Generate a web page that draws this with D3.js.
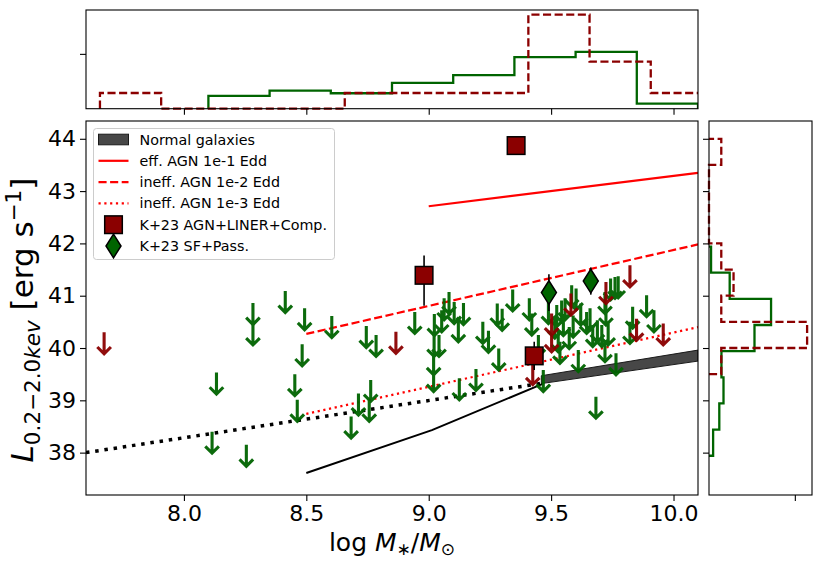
<!DOCTYPE html>
<html>
<head>
<meta charset="utf-8">
<script src="https://cdn.jsdelivr.net/npm/d3@7"></script>
<style>
  body { margin: 0; background: #fff; }
  svg text { font-family: "DejaVu Sans", sans-serif; }
</style>
</head>
<body>
<div id="chart-area"></div>
<script>
// ---- data ----
const xTicks = [8.0, 8.5, 9.0, 9.5, 10.0]
const yTicks = [38, 39, 40, 41, 42, 43, 44]

// upper limits (arrow start points), SF+Pass. sample
const greenX = [8.282, 8.282, 8.414, 8.493, 8.483, 8.453, 8.463, 8.133, 8.115, 8.255,
  8.604, 8.745, 8.785, 8.943, 9.023, 9.022, 9.020, 9.020, 9.053, 9.042,
  9.063, 9.083, 9.104, 9.121, 9.142, 9.125, 9.193, 9.221, 9.244, 9.280,
  9.286, 8.763, 8.757, 8.713, 8.683,
  9.343, 9.300, 9.411, 9.421, 9.448, 9.468, 9.529, 9.523, 9.543, 9.574,
  9.557, 9.584, 9.602, 9.611, 9.621, 9.645, 9.659, 9.670, 9.689, 9.707,
  9.720, 9.733, 9.743, 9.761, 9.774, 9.720, 9.724, 9.765, 9.683, 9.536,
  9.890, 9.833, 9.822, 9.920, 9.489, 9.515, 9.550, 9.590]
const greenY = [40.86, 40.47, 41.09, 40.76, 40.07, 39.50, 39.01, 39.53, 38.40, 38.15,
  40.61, 40.42, 40.25, 40.69, 40.65, 40.25, 39.90, 39.58, 40.72, 40.25,
  40.95, 41.07, 40.88, 40.53, 40.86, 39.42, 39.60, 40.50, 40.33, 40.85,
  39.99, 39.39, 39.01, 39.13, 38.69,
  41.12, 40.75, 40.95, 40.66, 40.25, 39.58, 40.34, 40.82, 40.91, 40.40,
  40.95, 41.20, 41.14, 39.96, 40.85, 40.69, 40.76, 40.44, 40.53, 40.44,
  40.15, 40.47, 41.33, 41.36, 41.37, 41.07, 40.85, 39.90, 39.07, 40.12,
  41.01, 40.79, 40.50, 40.72, 40.88, 40.60, 40.65, 40.62]

// upper limits, AGN+LINER+Comp. sample
const redX = [7.674, 8.866, 9.425, 9.502, 9.502, 9.581, 9.724, 9.822, 9.849, 9.958]
const redY = [40.30, 40.31, 39.71, 40.66, 40.34, 41.04, 41.26, 41.58, 40.56, 40.47]

// detections
const agnX = [9.357, 8.981, 9.431]
const agnY = [43.87, 41.39, 39.85]
const agnErrUp = [0, 0.38, 0.27]
const agnErrLo = [0, 0.58, 0.27]
const sfX = [9.491, 9.662]
const sfY = [41.06, 41.28]
const sfErr = [0.35, 0.26]

// relations
const normX = [9.46, 10.1]
const normLo = [39.32, 39.75]
const normHi = [39.47, 39.96]
const xrbX = [7.6, 9.455]
const xrbY = [38.0, 39.32]
const lowX = [8.5, 9.013, 9.468]
const lowY = [37.61, 38.43, 39.32]
const eddX1 = [9.0, 10.1]
const eddY1 = [42.71, 43.35]
const eddX2 = [8.5, 10.1]
const eddY2 = [40.27, 41.98]
const eddX3 = [8.5, 10.1]
const eddY3 = [38.74, 40.40]

// marginal histograms (density)
const topRedStart = 7.657, topGreenStart = 8.1, topBin = 0.25
const topRed = [0.286, 0, 0, 0, 0.286, 0.286, 0.286, 1.714, 0.857, 0.286]
const topGreen = [0.235, 0.329, 0.282, 0.47, 0.612, 0.941, 1.035, 0.094]
const rightRedStart = 39.5, rightGreenStart = 37.94, rightBin = 0.5
const rightRed = [0.143, 1.143, 0.143, 0.286, 0.143, 0, 0, 0, 0.143]
const rightGreen = [0.048, 0.12, 0.169, 0.145, 0.53, 0.723, 0.241, 0.024]

const legendItems = ["Normal galaxies", "eff. AGN 1e-1 Edd", "ineff. AGN 1e-2 Edd",
  "ineff. AGN 1e-3 Edd", "K+23 AGN+LINER+Comp.", "K+23 SF+Pass."]

// ---- layout ----
const W = 822, H = 566
const MAIN = { L: 86, R: 698, T: 121, B: 495 }
const TOP = { T: 10, B: 108.7 }
const RIGHT = { L: 709, R: 812 }
const DARKRED = "#8b0000", DARKGREEN = "#006400"

const svg = d3.select("#chart-area").append("svg")
  .attr("width", W).attr("height", H)

const x = d3.scaleLinear().domain([7.6, 10.1]).range([MAIN.L, MAIN.R])
const y = d3.scaleLinear().domain([37.19, 44.34]).range([MAIN.B, MAIN.T])
const yTop = d3.scaleLinear().domain([0, 1.8]).range([TOP.B, TOP.T])
const xRight = d3.scaleLinear().domain([0, 1.2]).range([RIGHT.L, RIGHT.R])

const defs = svg.append("defs")
defs.append("clipPath").attr("id", "clipMain").append("rect")
  .attr("x", MAIN.L).attr("y", MAIN.T).attr("width", MAIN.R - MAIN.L).attr("height", MAIN.B - MAIN.T)
defs.append("clipPath").attr("id", "clipTop").append("rect")
  .attr("x", MAIN.L).attr("y", TOP.T).attr("width", MAIN.R - MAIN.L).attr("height", TOP.B - TOP.T + 2)
defs.append("clipPath").attr("id", "clipRight").append("rect")
  .attr("x", RIGHT.L - 2).attr("y", MAIN.T).attr("width", RIGHT.R - RIGHT.L + 2).attr("height", MAIN.B - MAIN.T)

// ---- main panel ----
const plot = svg.append("g").attr("clip-path", "url(#clipMain)")

const area = d3.area().x(d => x(d[0])).y0(d => y(d[1])).y1(d => y(d[2]))
plot.append("path")
  .datum(normX.map((v, i) => [v, normLo[i], normHi[i]]))
  .attr("d", area)
  .attr("fill", "#474747").attr("stroke", "#1a1a1a").attr("stroke-width", 1)

const line = d3.line().x(d => x(d[0])).y(d => y(d[1]))
const zip = (a, b) => a.map((v, i) => [v, b[i]])

plot.append("path").datum(zip(xrbX, xrbY)).attr("d", line)
  .attr("fill", "none").attr("stroke", "#000").attr("stroke-width", 3.5).attr("stroke-dasharray", "3.5,5.8")
plot.append("path").datum(zip(lowX, lowY)).attr("d", line)
  .attr("fill", "none").attr("stroke", "#000").attr("stroke-width", 2)
plot.append("path").datum(zip(eddX1, eddY1)).attr("d", line)
  .attr("fill", "none").attr("stroke", "red").attr("stroke-width", 2.2)
plot.append("path").datum(zip(eddX2, eddY2)).attr("d", line)
  .attr("fill", "none").attr("stroke", "red").attr("stroke-width", 2.2).attr("stroke-dasharray", "8.1,3.5")
plot.append("path").datum(zip(eddX3, eddY3)).attr("d", line)
  .attr("fill", "none").attr("stroke", "red").attr("stroke-width", 2.2).attr("stroke-dasharray", "2.2,3.6")

// arrows: shaft of 0.42 dex, open chevron head
const ARROW = 0.42
function drawArrows(xs, ys, color) {
  const g = plot.append("g").attr("stroke", color).attr("stroke-width", 3.1).attr("fill", "none")
    .attr("opacity", 0.95)
  xs.forEach((xv, i) => {
    const cx = x(xv), y0 = y(ys[i]), y1 = y(ys[i] - ARROW)
    g.append("path")
      .attr("d", `M${cx},${y0}L${cx},${y1 - 1}M${cx - 6.8},${y1 - 7.3}L${cx},${y1 - 0.5}L${cx + 6.8},${y1 - 7.3}`)
  })
}
drawArrows(greenX, greenY, DARKGREEN)
drawArrows(redX, redY, DARKRED)

// squares with error bars
agnX.forEach((xv, i) => {
  if (agnErrUp[i] > 0) {
    plot.append("line").attr("x1", x(xv)).attr("x2", x(xv))
      .attr("y1", y(agnY[i] + agnErrUp[i])).attr("y2", y(agnY[i] - agnErrLo[i]))
      .attr("stroke", "#000").attr("stroke-width", 1.6)
  }
})
plot.selectAll("rect.agn").data(agnX).enter().append("rect")
  .attr("class", "agn")
  .attr("x", (d) => x(d) - 8.8).attr("y", (d, i) => y(agnY[i]) - 8.8)
  .attr("width", 17.6).attr("height", 17.6)
  .attr("fill", DARKRED).attr("stroke", "#000").attr("stroke-width", 1.5)

// diamonds with error bars
const diamond = (cx, cy, hw, hh) => `M${cx},${cy - hh}L${cx + hw},${cy}L${cx},${cy + hh}L${cx - hw},${cy}Z`
sfX.forEach((xv, i) => {
  plot.append("line").attr("x1", x(xv)).attr("x2", x(xv))
    .attr("y1", y(sfY[i] + sfErr[i])).attr("y2", y(sfY[i] - sfErr[i]))
    .attr("stroke", "#000").attr("stroke-width", 1.6)
  plot.append("path").attr("d", diamond(x(xv), y(sfY[i]), 7.5, 11.8))
    .attr("fill", DARKGREEN).attr("stroke", "#000").attr("stroke-width", 1.5)
})

// axes
const xAxis = svg.append("g").attr("transform", `translate(0,${MAIN.B})`)
  .call(d3.axisBottom(x).tickValues(xTicks).tickFormat(d3.format(".1f")).tickSizeOuter(0).tickSize(6).tickPadding(4))
const yAxis = svg.append("g").attr("transform", `translate(${MAIN.L},0)`)
  .call(d3.axisLeft(y).tickValues(yTicks).tickSizeOuter(0).tickSize(6).tickPadding(4))
;[xAxis, yAxis].forEach(a => {
  a.select(".domain").remove()
  a.selectAll("text").attr("font-size", 22).attr("fill", "#000").attr("font-family", "DejaVu Sans")
  a.selectAll("line").attr("stroke", "#000").attr("stroke-width", 1.1)
})
svg.append("rect").attr("x", MAIN.L).attr("y", MAIN.T)
  .attr("width", MAIN.R - MAIN.L).attr("height", MAIN.B - MAIN.T)
  .attr("fill", "none").attr("stroke", "#000").attr("stroke-width", 1.1)

// axis labels
const xl = svg.append("text").attr("x", (MAIN.L + MAIN.R) / 2).attr("y", 551)
  .attr("text-anchor", "middle").attr("font-size", 25)
xl.append("tspan").text("log ")
xl.append("tspan").attr("font-style", "italic").text("M")
xl.append("tspan").attr("font-size", 17).attr("dy", 4).text("∗")
xl.append("tspan").attr("dy", -4).text("/")
xl.append("tspan").attr("font-style", "italic").text("M")
xl.append("tspan").attr("font-size", 17).attr("dy", 4).text("⊙")

const yl = svg.append("text")
  .attr("transform", "translate(33,320) rotate(-90)")
  .attr("text-anchor", "middle").attr("font-size", 31)
yl.append("tspan").attr("font-style", "italic").text("L")
yl.append("tspan").attr("font-size", 21.5).attr("dy", 7).text("0.2−2.0")
yl.append("tspan").attr("font-size", 21.5).attr("font-style", "italic").text("kev")
yl.append("tspan").attr("dy", -7).text("  [erg s")
yl.append("tspan").attr("font-size", 21.5).attr("dy", -12).text("−1")
yl.append("tspan").attr("dy", 12).text("]")

// legend
const lg = svg.append("g").attr("transform", "translate(93.5,128.5)")
lg.append("rect").attr("width", 241).attr("height", 131).attr("rx", 3)
  .attr("fill", "#fff").attr("fill-opacity", 0.8).attr("stroke", "#ccc")
const rowY = d3.scalePoint().domain(legendItems).range([11, 117.5])
legendItems.forEach((t, i) => {
  const ry = rowY(t)
  lg.append("text").attr("x", 46).attr("y", ry + 5).attr("font-size", 14.3).attr("fill", "#000").text(t)
})
lg.append("rect").attr("x", 5).attr("y", rowY(legendItems[0]) - 5.3).attr("width", 30).attr("height", 10.6)
  .attr("fill", "#474747").attr("stroke", "#1a1a1a")
;[["none"], ["8.1,3.5"], ["2.2,3.6"]].forEach((d, i) => {
  const ry = rowY(legendItems[i + 1])
  lg.append("line").attr("x1", 5).attr("x2", 35).attr("y1", ry).attr("y2", ry)
    .attr("stroke", "red").attr("stroke-width", 2.2).attr("stroke-dasharray", d[0])
})
lg.append("rect").attr("x", 20 - 8.8).attr("y", rowY(legendItems[4]) - 8.8).attr("width", 17.6).attr("height", 17.6)
  .attr("fill", DARKRED).attr("stroke", "#000").attr("stroke-width", 1.5)
lg.append("path").attr("d", diamond(20, rowY(legendItems[5]), 7.5, 11.8))
  .attr("fill", DARKGREEN).attr("stroke", "#000").attr("stroke-width", 1.5)

// ---- top histogram ----
function stepTop(start, vals) {
  const pts = [[start, 0]]
  vals.forEach((v, i) => { pts.push([start + i * topBin, v]); pts.push([start + (i + 1) * topBin, v]) })
  pts.push([start + vals.length * topBin, 0])
  return pts
}
const topLine = d3.line().x(d => x(d[0])).y(d => yTop(d[1]))
const topG = svg.append("g").attr("clip-path", "url(#clipTop)")
topG.append("path").datum(stepTop(topGreenStart, topGreen)).attr("d", topLine)
  .attr("fill", "none").attr("stroke", DARKGREEN).attr("stroke-width", 2.3)
topG.append("path").datum(stepTop(topRedStart, topRed)).attr("d", topLine)
  .attr("fill", "none").attr("stroke", DARKRED).attr("stroke-width", 2.3).attr("stroke-dasharray", "8.1,3.5")
svg.append("rect").attr("x", MAIN.L).attr("y", TOP.T).attr("width", MAIN.R - MAIN.L).attr("height", TOP.B - TOP.T)
  .attr("fill", "none").attr("stroke", "#000").attr("stroke-width", 1.1)
const topX = svg.append("g").attr("transform", `translate(0,${TOP.B})`)
  .call(d3.axisBottom(x).tickValues(xTicks).tickFormat("").tickSize(6).tickSizeOuter(0))
const topY = svg.append("g").attr("transform", `translate(${MAIN.L},0)`)
  .call(d3.axisLeft(yTop).tickValues([1]).tickFormat("").tickSize(6).tickSizeOuter(0))
;[topX, topY].forEach(a => { a.select(".domain").remove(); a.selectAll("line").attr("stroke", "#000").attr("stroke-width", 1.1) })

// ---- right histogram ----
function stepRight(start, vals) {
  const pts = [[0, start]]
  vals.forEach((v, i) => { pts.push([v, start + i * rightBin]); pts.push([v, start + (i + 1) * rightBin]) })
  pts.push([0, start + vals.length * rightBin])
  return pts
}
const rightLine = d3.line().x(d => xRight(d[0])).y(d => y(d[1]))
const rightG = svg.append("g").attr("clip-path", "url(#clipRight)")
rightG.append("path").datum(stepRight(rightGreenStart, rightGreen)).attr("d", rightLine)
  .attr("fill", "none").attr("stroke", DARKGREEN).attr("stroke-width", 2.3)
rightG.append("path").datum(stepRight(rightRedStart, rightRed)).attr("d", rightLine)
  .attr("fill", "none").attr("stroke", DARKRED).attr("stroke-width", 2.3).attr("stroke-dasharray", "8.1,3.5")
svg.append("rect").attr("x", RIGHT.L).attr("y", MAIN.T).attr("width", RIGHT.R - RIGHT.L).attr("height", MAIN.B - MAIN.T)
  .attr("fill", "none").attr("stroke", "#000").attr("stroke-width", 1.1)
const rX = svg.append("g").attr("transform", `translate(0,${MAIN.B})`)
  .call(d3.axisBottom(xRight).tickValues([1]).tickFormat("").tickSize(6).tickSizeOuter(0))
const rY = svg.append("g").attr("transform", `translate(${RIGHT.L},0)`)
  .call(d3.axisLeft(y).tickValues(yTicks).tickFormat("").tickSize(6).tickSizeOuter(0))
;[rX, rY].forEach(a => { a.select(".domain").remove(); a.selectAll("line").attr("stroke", "#000").attr("stroke-width", 1.1) })
</script>
</body>
</html>
